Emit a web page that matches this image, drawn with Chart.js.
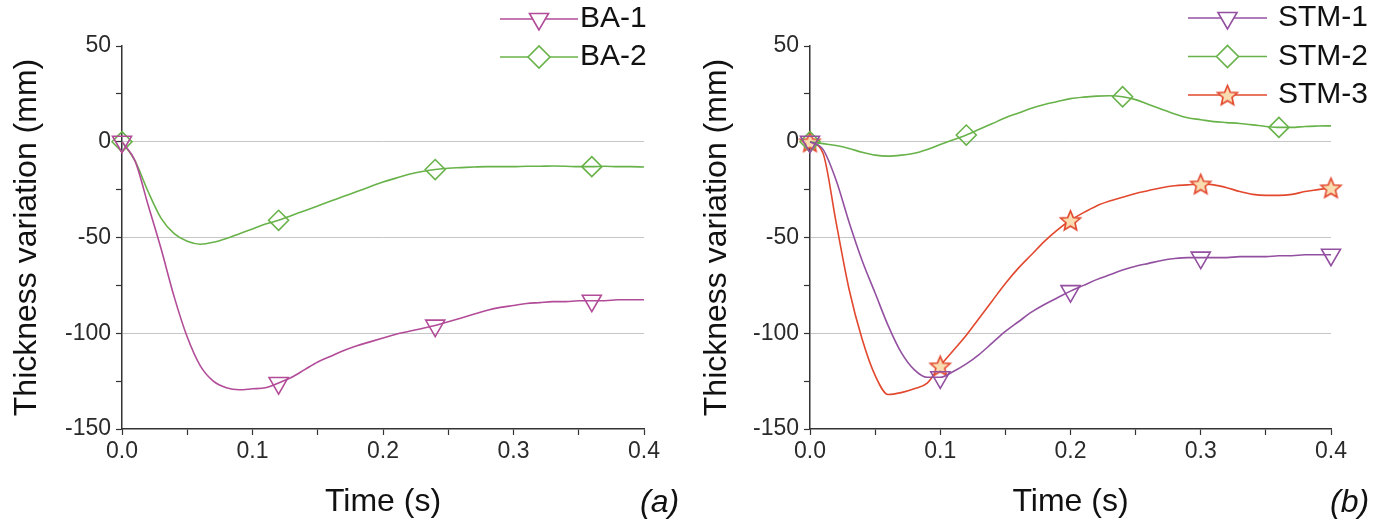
<!DOCTYPE html>
<html>
<head>
<meta charset="utf-8">
<script src="https://cdn.jsdelivr.net/npm/chart.js@4.4.1/dist/chart.umd.min.js"></script>
<style>
  html, body { margin: 0; padding: 0; background: #fff; }
  #wrap { position: relative; width: 1383px; height: 527px; overflow: hidden; }
  #wrap canvas { position: absolute; top: 0; }
</style>
</head>
<body>
<div id="wrap">
  <canvas id="chartA" width="690" height="527" style="left:0"></canvas>
  <canvas id="chartB" width="693" height="527" style="left:690px"></canvas>
</div>
<script>
// time axis shared by every curve (s)
var TIME = [0, 0.01, 0.02, 0.03, 0.04, 0.05, 0.06, 0.07, 0.08, 0.09,
            0.10, 0.11, 0.12, 0.13, 0.14, 0.15, 0.16, 0.17, 0.18, 0.19,
            0.20, 0.21, 0.22, 0.23, 0.24, 0.25, 0.26, 0.27, 0.28, 0.29,
            0.30, 0.31, 0.32, 0.33, 0.34, 0.35, 0.36, 0.37, 0.38, 0.39, 0.40];

// (a) thickness variation, mm
var BA1 = [0, -10, -33, -56, -81, -102, -117, -125, -128.5, -129.5,
           -129, -128.5, -126, -123, -119, -115, -112, -109, -106.5, -104.5,
           -102.5, -100.5, -99, -97.5, -96, -94, -92, -90, -88, -86.5,
           -85.5, -84.5, -84, -83.5, -83.5, -83, -83, -83, -82.5, -82.5, -82.5];
var BA2 = [0, -10, -26, -40, -48, -52, -53.5, -52.5, -50.5, -48,
           -45.5, -43, -41, -38.5, -36, -33.5, -31, -28.5, -26, -23.5,
           -21, -19, -17, -15.5, -14.5, -13.8, -13.5, -13.2, -13, -13,
           -13, -12.8, -12.8, -12.7, -12.8, -13, -13, -12.8, -13, -13, -13.2];

// (b) thickness variation, mm
var STM1 = [0, -4, -20, -42, -62, -79, -96, -110, -119, -123,
            -123, -120, -116, -111, -105, -99, -94, -89, -85, -81.5,
            -78, -75, -72, -69.5, -67, -65, -63.5, -62, -61, -60.5,
            -60.5, -60.5, -60.5, -60, -60, -60, -59.5, -59.5, -59, -59, -59];
var STM2 = [0, -1, -2, -3.5, -5.5, -7, -7.5, -7, -6, -4,
            -1.5, 1, 3.5, 6.5, 9.5, 12.5, 15, 17.5, 19.5, 21,
            22.5, 23.3, 23.8, 24, 23.5, 22, 19.5, 17, 14.5, 12.5,
            11.5, 10.5, 10, 9.5, 8.8, 8, 7.5, 7.5, 8, 8.2, 8.3];
var STM3 = [0, -6, -42, -77, -103, -122, -132, -131, -129, -126,
            -117, -109, -101, -92, -83, -74, -66, -59, -52, -46,
            -41, -37, -33.5, -31, -29, -27, -25.5, -24, -23, -22.5,
            -22, -22.5, -24, -26, -27.5, -28, -28, -27.5, -26, -25, -24];

// where the symbols sit on each curve
var MARKS_BA = [0, 0.12, 0.24, 0.36];
var MARKS_STM13 = [0, 0.1, 0.2, 0.3, 0.4];
var MARKS_STM2 = [0, 0.12, 0.24, 0.36];

var Y_TICKS_MAJOR = [50, 0, -50, -100, -150];
var Y_GRID = [0, -50, -100];

var C_MAG = '#b24c98';
var C_PUR = '#9350a0';
var C_GRN = '#68b24a';
var C_RED = '#e2482e';
var FONT = '"Liberation Sans", Arial, sans-serif';

Chart.defaults.font.family = FONT;

function makeStar(r, fill, stroke) {
  var s = Math.ceil(r * 2 + 4);
  var c = document.createElement('canvas');
  c.width = s; c.height = s;
  var g = c.getContext('2d');
  var cx = s / 2, cy = s / 2 + 1;
  g.beginPath();
  for (var i = 0; i < 10; i++) {
    var rr = (i % 2 === 0) ? r : r * 0.45;
    var a = -Math.PI / 2 + i * Math.PI / 5;
    g.lineTo(cx + Math.cos(a) * rr, cy + Math.sin(a) * rr);
  }
  g.closePath();
  g.fillStyle = fill;
  g.fill();
  g.strokeStyle = stroke;
  g.lineWidth = 1.6;
  g.stroke();
  return c;
}
var STAR = makeStar(10.5, '#f9ddb0', C_RED);

function toPoints(vals) {
  return TIME.map(function(t, i) { return { x: t, y: vals[i] }; });
}

function hasMark(x, marks) {
  for (var i = 0; i < marks.length; i++) {
    if (Math.abs(marks[i] - x) < 1e-6) return true;
  }
  return false;
}

function series(label, vals, color, style, radius, marks) {
  return {
    label: label,
    data: toPoints(vals),
    borderColor: color,
    backgroundColor: 'rgba(255,255,255,0)',
    borderWidth: 1.6,
    cubicInterpolationMode: 'monotone',
    pointStyle: style,
    pointRotation: style === 'triangle' ? 180 : 0,
    pointBorderWidth: 1.6,
    pointBorderColor: color,
    pointBackgroundColor: 'rgba(255,255,255,0)',
    pointRadius: function(c) { return c.raw && hasMark(c.raw.x, marks) ? radius : 0; },
    pointHoverRadius: 0,
    clip: 20,
  };
}

function drawMarker(ctx, style, x, y, color) {
  ctx.strokeStyle = color;
  ctx.lineWidth = 1.6;
  if (style === 'triangle') {
    var r = 11;
    ctx.beginPath();
    ctx.moveTo(x, y + r);
    ctx.lineTo(x - r * 0.866, y - r / 2);
    ctx.lineTo(x + r * 0.866, y - r / 2);
    ctx.closePath();
    ctx.fillStyle = '#fff';
    ctx.fill();
    ctx.stroke();
  } else if (style === 'rectRot') {
    var d = 11;
    ctx.beginPath();
    ctx.moveTo(x - d, y); ctx.lineTo(x, y - d); ctx.lineTo(x + d, y); ctx.lineTo(x, y + d);
    ctx.closePath();
    ctx.fillStyle = '#fff';
    ctx.fill();
    ctx.stroke();
  } else {
    ctx.drawImage(style, x - style.width / 2, y - style.height / 2);
  }
}

// line + symbol legend in the top right corner, plus the panel tag
function legendPlugin(items, box) {
  return {
    id: 'lineLegend',
    afterDraw: function(chart) {
      var ctx = chart.ctx;
      ctx.save();
      items.forEach(function(it, i) {
        var y = box.y + i * box.gap;
        ctx.strokeStyle = it.color;
        ctx.lineWidth = 1.6;
        ctx.beginPath();
        ctx.moveTo(box.x1, y);
        ctx.lineTo(box.x2, y);
        ctx.stroke();
        drawMarker(ctx, it.style, (box.x1 + box.x2) / 2, y, it.color);
        ctx.fillStyle = '#111';
        ctx.font = '30px ' + FONT;
        ctx.textAlign = 'left';
        ctx.textBaseline = 'middle';
        ctx.fillText(it.label, box.tx, y);
      });
      ctx.font = 'italic 32px ' + FONT;
      ctx.textBaseline = 'alphabetic';
      ctx.fillStyle = '#111';
      ctx.fillText(box.tag, box.tagX, box.tagY);
      ctx.restore();
    }
  };
}

function axes(yWidth) {
  return {
    x: {
      type: 'linear',
      min: 0,
      max: 0.4,
      afterFit: function(s) { s.height = 98; },
      border: { display: true, color: '#333', width: 1.5 },
      grid: { drawOnChartArea: false, drawTicks: true, tickLength: 6, tickColor: '#333', tickWidth: 1.2 },
      ticks: {
        stepSize: 0.05,
        autoSkip: false,
        maxRotation: 0,
        padding: 3,
        color: '#2a2a2a',
        font: { size: 23 },
        callback: function(v) {
          var k = Math.round(v * 100);
          return k % 10 === 0 ? (k / 100).toFixed(1) : '';
        },
      },
      title: { display: true, text: 'Time (s)', color: '#111', font: { size: 32 }, padding: { top: 0, bottom: 6 } },
    },
    y: {
      min: -150,
      max: 50,
      afterFit: function(s) { s.width = yWidth; },
      border: { display: true, color: '#333', width: 1.5 },
      grid: {
        drawOnChartArea: true,
        tickLength: 6,
        tickColor: '#333',
        tickWidth: 1.2,
        lineWidth: 1,
        color: function(c) {
          return c.tick && Y_GRID.indexOf(c.tick.value) >= 0 ? '#c6c6c6' : 'rgba(0,0,0,0)';
        },
      },
      ticks: {
        stepSize: 25,
        autoSkip: false,
        padding: 5,
        color: '#2a2a2a',
        font: { size: 23 },
        callback: function(v) { return Y_TICKS_MAJOR.indexOf(v) >= 0 ? String(v) : ''; },
      },
      title: { display: true, text: 'Thickness variation (mm)', color: '#111', font: { size: 32 }, padding: { top: 8, bottom: 0 } },
    },
  };
}

new Chart(document.getElementById('chartA'), {
  type: 'line',
  data: {
    datasets: [
      series('BA-1', BA1, C_MAG, 'triangle', 11, MARKS_BA),
      series('BA-2', BA2, C_GRN, 'rectRot', 10, MARKS_BA),
    ],
  },
  options: {
    responsive: false,
    animation: false,
    layout: { padding: { top: 46, right: 46, bottom: 0, left: 0 } },
    plugins: { legend: { display: false }, tooltip: { enabled: false } },
    scales: axes(122),
  },
  plugins: [legendPlugin([
    { label: 'BA-1', color: C_MAG, style: 'triangle' },
    { label: 'BA-2', color: C_GRN, style: 'rectRot' },
  ], { x1: 500, x2: 578, tx: 580, y: 19, gap: 38, tag: '(a)', tagX: 640, tagY: 512 })],
});

new Chart(document.getElementById('chartB'), {
  type: 'line',
  data: {
    datasets: [
      series('STM-1', STM1, C_PUR, 'triangle', 11, MARKS_STM13),
      series('STM-2', STM2, C_GRN, 'rectRot', 10, MARKS_STM2),
      series('STM-3', STM3, C_RED, STAR, 11, MARKS_STM13),
    ],
  },
  options: {
    responsive: false,
    animation: false,
    layout: { padding: { top: 46, right: 52, bottom: 0, left: 0 } },
    plugins: { legend: { display: false }, tooltip: { enabled: false } },
    scales: axes(120),
  },
  plugins: [legendPlugin([
    { label: 'STM-1', color: C_PUR, style: 'triangle' },
    { label: 'STM-2', color: C_GRN, style: 'rectRot' },
    { label: 'STM-3', color: C_RED, style: STAR },
  ], { x1: 498, x2: 577, tx: 588, y: 18, gap: 38.5, tag: '(b)', tagX: 640, tagY: 512 })],
});
</script>
</body>
</html>
